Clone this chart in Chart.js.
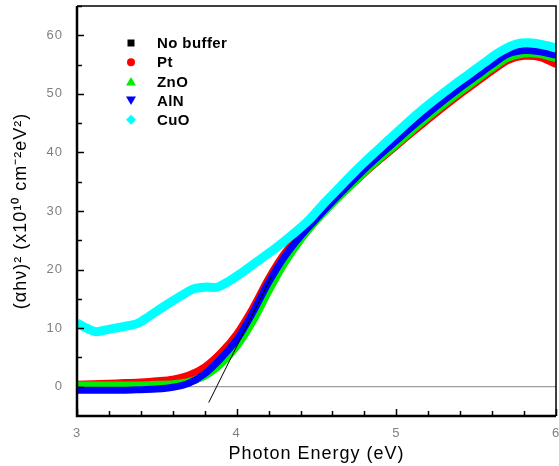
<!DOCTYPE html>
<html>
<head>
<meta charset="utf-8">
<script src="https://cdn.jsdelivr.net/npm/chart.js@4"></script>
<style>
  html, body { margin: 0; padding: 0; background: #fff; }
  #wrap { width: 559px; height: 466px; }
</style>
</head>
<body>
<div id="wrap"><canvas id="myChart" width="559" height="466"></canvas></div>
<script>
// photon energy grid (eV) for the four overlapping films
const energy = [3.0, 3.1, 3.2, 3.3, 3.4, 3.5, 3.6, 3.7, 3.8, 3.9, 4.0, 4.1, 4.2, 4.3, 4.4, 4.5,
  4.6, 4.7, 4.8, 4.9, 5.0, 5.1, 5.2, 5.3, 5.4, 5.5, 5.6, 5.7, 5.8, 5.9, 6.0];
const noBuffer = [0.0, 0.0, 0.0, 0.1, 0.1, 0.2, 0.3, 0.7, 2.0, 4.3, 7.4, 11.8, 17.0, 21.5, 25.3, 28.5,
  31.4, 34.1, 36.7, 39.1, 41.5, 43.9, 46.2, 48.4, 50.5, 52.6, 54.6, 56.4, 57.0, 56.8, 56.2];
const pt = [0.4, 0.5, 0.6, 0.7, 0.8, 1.0, 1.3, 2.0, 3.4, 5.8, 9.0, 13.4, 18.5, 22.8, 26.0, 28.7,
  31.4, 33.9, 36.4, 38.8, 41.1, 43.4, 45.6, 47.8, 49.9, 51.9, 53.9, 55.7, 56.4, 56.2, 55.0];
const znO = [0.3, 0.3, 0.3, 0.3, 0.3, 0.4, 0.5, 0.9, 1.8, 3.8, 6.8, 11.0, 16.2, 21.0, 25.0, 28.3,
  31.2, 33.9, 36.5, 39.0, 41.3, 43.7, 46.0, 48.2, 50.3, 52.3, 54.3, 56.1, 56.8, 56.7, 56.0];
const alN = [-0.6, -0.6, -0.6, -0.6, -0.5, -0.4, -0.1, 0.6, 2.2, 4.8, 8.0, 12.6, 17.8, 22.2, 25.7, 28.7,
  31.6, 34.4, 37.1, 39.6, 42.0, 44.4, 46.7, 48.9, 51.0, 53.0, 55.0, 56.8, 57.4, 57.2, 56.6];

// CuO has its own, finer reading grid
const cuoEnergy = [3.0, 3.06, 3.12, 3.2, 3.3, 3.38, 3.45, 3.55, 3.65, 3.73, 3.8, 3.88, 3.95, 4.05,
  4.15, 4.25, 4.35, 4.45, 4.55, 4.65, 4.75, 4.85, 4.95, 5.05, 5.15, 5.25, 5.35, 5.45, 5.55, 5.65,
  5.75, 5.85, 5.95, 6.0];
const cuO = [10.9, 10.0, 9.4, 9.8, 10.3, 10.8, 12.0, 13.8, 15.5, 16.7, 17.0, 17.0, 18.0, 19.8,
  21.8, 23.8, 26.0, 28.4, 31.4, 34.2, 37.0, 39.6, 42.1, 44.6, 47.0, 49.2, 51.3, 53.3, 55.3, 57.2,
  58.5, 58.7, 58.2, 57.8];

// tangent used for the band-gap extrapolation, and the zero base line
const tangentX = [3.825, 4.22];
const tangentY = [-2.7, 18.9];
const baseX = [3, 6];
const baseY = [0, 0];

const seriesNames = ['No buffer', 'Pt', 'ZnO', 'AlN', 'CuO'];
const seriesColors = ['#000000', '#ff0000', '#00ee00', '#0000ff', '#00ffff'];
const seriesMarkers = ['rect', 'circle', 'triangle', 'triangleDown', 'diamond'];

const xTicks = [3, 4, 5, 6];
const yTicks = [0, 10, 20, 30, 40, 50, 60];

const pairs = (xs, ys) => xs.map((x, i) => ({ x: x, y: ys[i] }));

const frame = {
  id: 'frame',
  beforeDraw(chart) {
    // the original lettering is a little wide
    chart.ctx.letterSpacing = '1px';
  },
  afterDatasetsDraw(chart) {
    const { ctx, chartArea: a, scales } = chart;
    ctx.save();
    ctx.strokeStyle = '#000';
    // inward tick marks
    ctx.lineWidth = 1.5;
    for (let v = 3; v <= 6.001; v += 0.2) {
      const px = Math.round(scales.x.getPixelForValue(v)) + 0.5;
      const major = Math.abs(v - Math.round(v)) < 0.01;
      ctx.beginPath();
      ctx.moveTo(px, a.bottom);
      ctx.lineTo(px, a.bottom - (major ? 7 : 5));
      ctx.stroke();
    }
    for (let v = 0; v <= 65; v += 5) {
      const py = Math.round(scales.y.getPixelForValue(v)) + 0.5;
      ctx.beginPath();
      ctx.moveTo(a.left, py);
      ctx.lineTo(a.left + (v % 10 === 0 ? 7 : 5), py);
      ctx.stroke();
    }
    // box
    ctx.lineWidth = 1.5;
    ctx.beginPath();
    ctx.moveTo(a.left, a.top);
    ctx.lineTo(a.right, a.top);
    ctx.lineTo(a.right, a.bottom);
    ctx.stroke();
    ctx.lineWidth = 2.5;
    ctx.beginPath();
    ctx.moveTo(a.left, a.top);
    ctx.lineTo(a.left, a.bottom);
    ctx.lineTo(a.right, a.bottom);
    ctx.stroke();

    // legend inside the plot
    const lx = 131, tx = 157;
    ctx.font = 'bold 15px "Liberation Sans", Arial, sans-serif';
    ctx.letterSpacing = '0.4px';
    ctx.textBaseline = 'middle';
    seriesNames.forEach((name, i) => {
      const ly = 43 + i * 19.2;
      ctx.fillStyle = seriesColors[i];
      ctx.beginPath();
      const m = seriesMarkers[i];
      if (m === 'rect') ctx.rect(lx - 3.5, ly - 3.5, 7, 7);
      else if (m === 'circle') ctx.arc(lx, ly, 4, 0, Math.PI * 2);
      else if (m === 'triangle') { ctx.moveTo(lx, ly - 4.5); ctx.lineTo(lx + 5, ly + 4); ctx.lineTo(lx - 5, ly + 4); }
      else if (m === 'triangleDown') { ctx.moveTo(lx, ly + 4.5); ctx.lineTo(lx + 5, ly - 4); ctx.lineTo(lx - 5, ly - 4); }
      else { ctx.moveTo(lx, ly - 5); ctx.lineTo(lx + 5, ly); ctx.lineTo(lx, ly + 5); ctx.lineTo(lx - 5, ly); }
      ctx.closePath();
      ctx.fill();
      ctx.fillStyle = '#000';
      ctx.fillText(name, tx, ly + 1);
    });
    ctx.restore();
  }
};

window.addEventListener("DOMContentLoaded", () => {
  const ctx = document.getElementById("myChart");
  const bands = [noBuffer, pt, znO, alN];
  const datasets = [{
    label: 'base',
    data: pairs(baseX, baseY),
    borderColor: '#888888',
    borderWidth: 1,
    pointRadius: 0,
    order: 10
  }];
  bands.forEach((ys, i) => {
    datasets.push({
      label: seriesNames[i],
      data: pairs(energy, ys),
      borderColor: seriesColors[i],
      borderWidth: 7,
      pointRadius: 0,
      tension: 0.3,
      order: 6 - i
    });
  });
  datasets.push({
    label: seriesNames[4],
    data: pairs(cuoEnergy, cuO),
    borderColor: seriesColors[4],
    borderWidth: 9,
    pointRadius: 0,
    tension: 0.3,
    order: 2
  });
  datasets.push({
    label: 'tangent',
    data: pairs(tangentX, tangentY),
    borderColor: '#000000',
    borderWidth: 1,
    pointRadius: 0,
    order: 1
  });

  new Chart(ctx, {
    type: 'line',
    data: { datasets: datasets },
    plugins: [frame],
    options: {
      responsive: false,
      animation: false,
      layout: { padding: { left: 10, right: 3, top: 6, bottom: 0 } },
      plugins: { legend: { display: false }, tooltip: { enabled: false } },
      scales: {
        x: {
          type: 'linear',
          min: 3,
          max: 6,
          afterBuildTicks: s => { s.ticks = xTicks.map(v => ({ value: v })); },
          afterFit: s => { s.height = 50; s.paddingLeft = 0; s.paddingRight = 0; },
          grid: { display: false, drawTicks: false },
          border: { display: false },
          ticks: { color: '#808080', font: { size: 13, family: 'Liberation Sans, Arial' }, padding: 10 },
          title: {
            display: true,
            text: 'Photon Energy (eV)',
            color: '#000',
            font: { size: 18, family: 'Liberation Sans, Arial' },
            padding: { top: 0, bottom: 1 }
          }
        },
        y: {
          min: -5,
          max: 65,
          afterBuildTicks: s => { s.ticks = yTicks.map(v => ({ value: v })); },
          afterFit: s => { s.width = 67; s.paddingTop = 0; s.paddingBottom = 0; },
          grid: { display: false, drawTicks: false },
          border: { display: false },
          ticks: { color: '#808080', font: { size: 13, family: 'Liberation Sans, Arial' }, padding: 14 },
          title: {
            display: true,
            text: '(\u03b1h\u03bd)\u00b2 (x10\u00b9\u2070 cm\u207b\u00b2eV\u00b2)',
            color: '#000',
            font: { size: 18, family: 'Liberation Sans, Arial' },
            padding: { top: 0, bottom: 0 }
          }
        }
      }
    }
  });
});
</script>
</body>
</html>
